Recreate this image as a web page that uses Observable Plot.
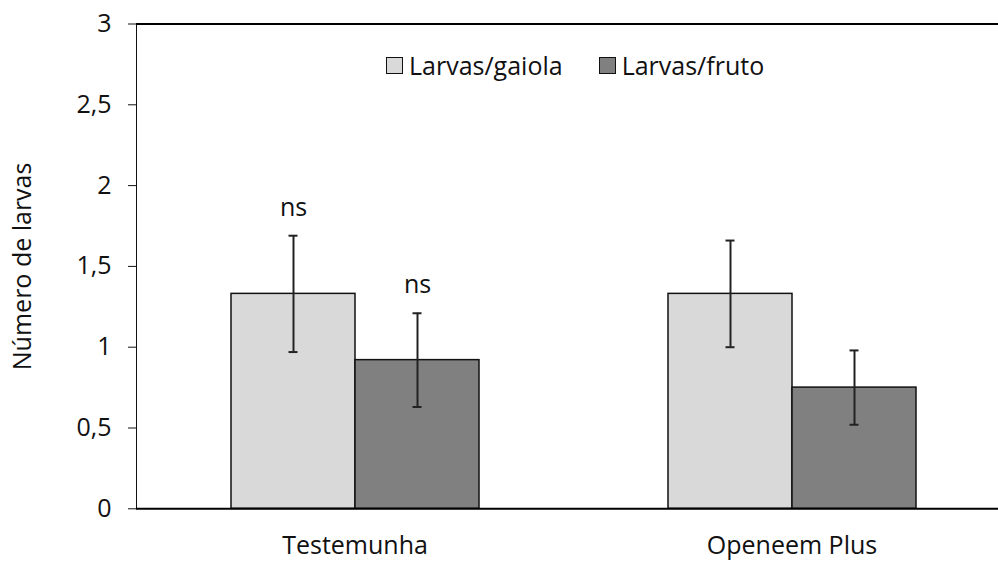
<!DOCTYPE html>
<html>
<head>
<meta charset="utf-8">
<script src="https://cdn.jsdelivr.net/npm/d3@7"></script>
<script src="https://cdn.jsdelivr.net/npm/@observablehq/plot@0.6"></script>
<style>
  html, body { margin: 0; padding: 0; background: white; overflow: hidden; }
  #wrap { position: relative; width: 998px; height: 561px; }
  #legend { position: absolute; left: 386px; top: 48px; display: flex; align-items: center;
            font-family: "Open Sans", sans-serif; font-size: 25px; color: #111; }
  .item { display: flex; align-items: center; margin-right: 36px; }
  .sw { width: 17px; height: 17px; border: 1.5px solid #111; margin-right: 6px; box-sizing: border-box; }
</style>
</head>
<body>
<div id="wrap"><div id="legend"></div></div>
<script>
const grupos = ["Testemunha", "Openeem Plus"];
const series = ["Larvas/gaiola", "Larvas/fruto"];
const mediaGaiola = [1.33, 1.33];
const mediaFruto = [0.92, 0.75];
const erroGaiola = [0.36, 0.33];
const erroFruto = [0.29, 0.23];
const sigGaiola = ["ns", ""];
const sigFruto = ["ns", ""];
const cores = ["#d9d9d9", "#808080"];
const yTicks = [0, 0.5, 1, 1.5, 2, 2.5, 3];

const dados = [];
grupos.forEach((g, i) => {
  dados.push({grupo: g, serie: series[0], media: mediaGaiola[i], erro: erroGaiola[i], sig: sigGaiola[i]});
  dados.push({grupo: g, serie: series[1], media: mediaFruto[i], erro: erroFruto[i], sig: sigFruto[i]});
});
const lo = d => d.media - d.erro;
const hi = d => d.media + d.erro;

const chart = Plot.plot({
  width: 998,
  height: 561,
  marginTop: 23.5,
  marginBottom: 52.7,
  marginLeft: 135,
  marginRight: 0,
  style: {fontFamily: "Open Sans, sans-serif", fontSize: "25px", color: "#111", background: "white"},
  fx: {domain: grupos, range: [135, 1010.5], padding: 0, axis: "bottom", tickSize: 0, tickPadding: 27, label: null},
  x: {domain: series, paddingInner: 0, paddingOuter: 0.75, axis: null},
  y: {domain: [0, 3], ticks: yTicks, tickSize: 8, tickPadding: 17, tickFormat: d => String(d).replace(".", ","),
      label: "Número de larvas", labelAnchor: "center", labelOffset: 123, labelArrow: "none", line: true},
  color: {domain: series, range: cores},
  marks: [
    Plot.barY(dados, {fx: "grupo", x: "serie", y: "media", fill: "serie", stroke: "#111", strokeWidth: 1.5}),
    Plot.ruleX(dados, {fx: "grupo", x: "serie", y1: lo, y2: hi, stroke: "#222", strokeWidth: 2}),
    Plot.tickY(dados, {fx: "grupo", x: "serie", y: lo, stroke: "#222", strokeWidth: 2, insetLeft: 57.5, insetRight: 57.5}),
    Plot.tickY(dados, {fx: "grupo", x: "serie", y: hi, stroke: "#222", strokeWidth: 2, insetLeft: 57.5, insetRight: 57.5}),
    Plot.text(dados, {filter: d => d.sig, fx: "grupo", x: "serie", y: hi, text: "sig", dy: -28, fill: "#111"}),
    Plot.ruleY([0, 3], {stroke: "#000", strokeWidth: 2})
  ]
});
document.getElementById("wrap").prepend(chart);

const legend = document.getElementById("legend");
series.forEach((s, i) => {
  const it = document.createElement("div");
  it.className = "item";
  const sw = document.createElement("div");
  sw.className = "sw";
  sw.style.background = cores[i];
  const t = document.createElement("span");
  t.textContent = s;
  it.append(sw, t);
  legend.append(it);
});
</script>
</body>
</html>
